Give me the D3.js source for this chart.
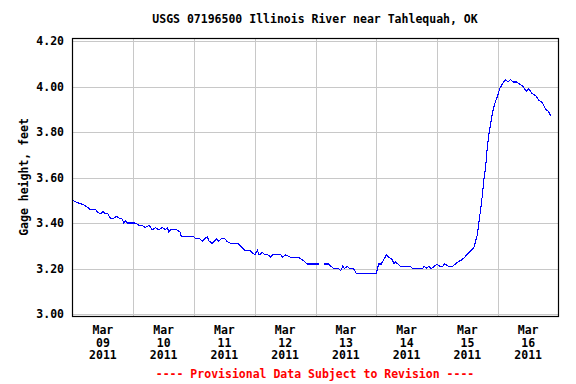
<!DOCTYPE html>
<html>
<head>
<meta charset="utf-8">
<script src="https://cdn.jsdelivr.net/npm/d3@7"></script>
<style>
    body { margin: 0; background: #fff; }
    svg { display: block; }
    text { font-family: 'DejaVu Sans Mono', monospace; font-weight: bold; font-size: 11.5px; fill: #000; }
</style>
</head>
<body>
<div id="chart"></div>
<script>
const title = 'USGS 07196500 Illinois River near Tahlequah, OK';
const yLabel = 'Gage height, feet';
const footer = '---- Provisional Data Subject to Revision ----';

// readings, local time, 2011 (null = missing)
const times = [
    '03/09 00:00', '03/09 01:45', '03/09 04:30', '03/09 05:45', '03/09 07:00', '03/09 09:00', '03/09 09:45',
    '03/09 11:00', '03/09 12:00', '03/09 13:00', '03/09 14:00', '03/09 15:00', '03/09 16:15', '03/09 17:15',
    '03/09 18:45', '03/09 19:30', '03/09 20:15', '03/09 21:00', '03/09 21:45',
    '03/10 00:15', '03/10 00:45', '03/10 02:15', '03/10 03:30', '03/10 04:45', '03/10 06:15', '03/10 07:30',
    '03/10 08:45', '03/10 10:00', '03/10 11:30', '03/10 12:45', '03/10 13:30', '03/10 14:00', '03/10 14:45',
    '03/10 17:15', '03/10 18:30', '03/10 19:00', '03/10 23:45',
    '03/11 01:00', '03/11 02:15', '03/11 03:15', '03/11 04:15', '03/11 05:15', '03/11 06:00', '03/11 07:15',
    '03/11 08:00', '03/11 09:00', '03/11 09:45', '03/11 10:45', '03/11 12:15', '03/11 13:00', '03/11 14:30',
    '03/11 17:30', '03/11 18:15', '03/11 19:15', '03/11 20:00', '03/11 22:00', '03/11 23:00',
    '03/12 00:00', '03/12 01:00', '03/12 01:45', '03/12 03:00', '03/12 04:00', '03/12 05:15', '03/12 06:15',
    '03/12 07:00', '03/12 10:15', '03/12 11:00', '03/12 12:15', '03/12 14:00', '03/12 17:15', '03/12 18:30',
    '03/12 19:45', '03/12 20:45',
    '03/13 01:15', '03/13 02:15', '03/13 03:15', '03/13 05:15', '03/13 06:00', '03/13 07:15', '03/13 09:00',
    '03/13 10:00', '03/13 10:45', '03/13 11:30', '03/13 12:30', '03/13 13:30', '03/13 15:00', '03/13 16:00',
    '03/14 00:00', '03/14 00:45', '03/14 01:00', '03/14 02:00', '03/14 03:00', '03/14 04:00', '03/14 05:00',
    '03/14 06:15', '03/14 07:00', '03/14 07:30', '03/14 08:30', '03/14 09:30', '03/14 13:30', '03/14 14:15',
    '03/14 18:15', '03/14 19:00', '03/14 19:45', '03/14 20:45', '03/14 21:45', '03/14 23:00',
    '03/15 00:00', '03/15 01:00', '03/15 02:15', '03/15 03:00', '03/15 04:30', '03/15 06:15', '03/15 07:15',
    '03/15 08:30', '03/15 10:00', '03/15 11:00', '03/15 12:30', '03/15 13:30', '03/15 14:30', '03/15 15:15',
    '03/15 16:00', '03/15 16:30', '03/15 17:15', '03/15 18:00', '03/15 18:30', '03/15 19:15', '03/15 19:45',
    '03/15 20:30', '03/15 21:15', '03/15 22:00', '03/15 23:15',
    '03/16 00:00', '03/16 00:45', '03/16 01:45', '03/16 03:00', '03/16 04:00', '03/16 05:00', '03/16 06:15',
    '03/16 07:30', '03/16 08:45', '03/16 10:00', '03/16 11:15', '03/16 12:15', '03/16 13:30', '03/16 15:00',
    '03/16 16:15', '03/16 17:30', '03/16 19:00', '03/16 20:00', '03/16 21:00'
];
const gageHeight = [
    3.50, 3.49, 3.48, 3.47, 3.46, 3.46, 3.45,
    3.44, 3.45, 3.44, 3.44, 3.42, 3.42, 3.43,
    3.42, 3.42, 3.40, 3.41, 3.40,
    3.40, 3.40, 3.39, 3.39, 3.38, 3.39, 3.37,
    3.38, 3.37, 3.38, 3.37, 3.38, 3.36, 3.37,
    3.37, 3.36, 3.34, 3.34,
    3.33, 3.33, 3.32, 3.33, 3.34, 3.32, 3.31,
    3.32, 3.33, 3.32, 3.33, 3.33, 3.32, 3.31,
    3.31, 3.30, 3.29, 3.28, 3.28, 3.27,
    3.26, 3.28, 3.26, 3.27, 3.26, 3.26, 3.25,
    3.26, 3.26, 3.25, 3.26, 3.25, 3.25, 3.24,
    3.23, 3.22,
    3.22, null, 3.22, 3.22, 3.21, 3.20, 3.20,
    3.19, 3.21, 3.20, 3.21, 3.20, 3.20, 3.18,
    3.18, 3.21, 3.22, 3.22, 3.24, 3.26, 3.25,
    3.24, 3.22, 3.23, 3.22, 3.21, 3.21, 3.20,
    3.20, 3.21, 3.20, 3.21, 3.20, 3.21,
    3.22, 3.21, 3.21, 3.22, 3.21, 3.21, 3.22,
    3.23, 3.24, 3.25, 3.27, 3.28, 3.29, 3.32,
    3.35, 3.40, 3.46, 3.53, 3.59, 3.65, 3.72,
    3.79, 3.84, 3.89, 3.94,
    3.96, 3.99, 4.01, 4.03, 4.02, 4.03, 4.02,
    4.02, 4.01, 4.00, 3.98, 3.99, 3.97, 3.96,
    3.94, 3.93, 3.90, 3.89, 3.87
];
const yTicks = [3.00, 3.20, 3.40, 3.60, 3.80, 4.00, 4.20];
const dayTicks = ['03/09', '03/10', '03/11', '03/12', '03/13', '03/14', '03/15', '03/16', '03/17'];

const width = 576;
const height = 384;
const frame = { left: 72, right: 558, top: 38, bottom: 316 };

const parseTime = d3.timeParse('%Y/%m/%d %H:%M');
const toDate = s => parseTime(`2011/${s.length > 5 ? s : s + ' 00:00'}`);
const data = times.map((t, i) => ({ date: toDate(t), value: gageHeight[i] }));
const days = dayTicks.map(toDate);

const scaleX = d3.scaleTime()
    .domain(d3.extent(days))
    .range([frame.left + 0.5, frame.right + 0.5]);
const scaleY = d3.scaleLinear()
    .domain([3.0, 4.2])
    .range([314, 41]);

const svg = d3.select('#chart').append('svg')
    .attr('width', width)
    .attr('height', height);

svg.append('rect')
    .attr('width', width)
    .attr('height', height)
    .attr('fill', '#fff');

// horizontal grid + y labels
const axisY = d3.axisLeft(scaleY)
    .tickValues(yTicks)
    .tickFormat(d3.format('.2f'))
    .tickSizeInner(-(frame.right - frame.left))
    .tickSizeOuter(0)
    .tickPadding(8);
const axisYGroup = svg.append('g')
    .attr('transform', `translate(${frame.left}, 0)`)
    .call(axisY);
axisYGroup.select('.domain').remove();
axisYGroup.selectAll('line')
    .attr('stroke', '#c8c8c8')
    .attr('shape-rendering', 'crispEdges');
axisYGroup.selectAll('text')
    .attr('font-family', null)
    .attr('font-size', null)
    .attr('fill', '#000');

// vertical grid at midnight
const axisXGrid = d3.axisBottom(scaleX)
    .tickValues(days.slice(1, -1))
    .tickFormat('')
    .tickSizeInner(-(frame.bottom - frame.top))
    .tickSizeOuter(0);
const gridXGroup = svg.append('g')
    .attr('transform', `translate(0, ${frame.bottom})`)
    .call(axisXGrid);
gridXGroup.select('.domain').remove();
gridXGroup.selectAll('line')
    .attr('stroke', '#c8c8c8')
    .attr('shape-rendering', 'crispEdges');

// day labels at noon
const noons = days.slice(0, -1).map(d => d3.timeHour.offset(d, 12));
const labelGroup = svg.append('g');
const label = labelGroup.selectAll('text')
    .data(noons)
    .join('text')
    .attr('text-anchor', 'middle')
    .attr('transform', d => `translate(${scaleX(d)}, 334)`);
[d3.timeFormat('%b'), d3.timeFormat('%d'), d3.timeFormat('%Y')].forEach((fmt, i) => {
    label.append('tspan')
        .attr('x', 0)
        .attr('y', i * 12.7)
        .text(fmt);
});

// data line
const line = d3.line()
    .defined(d => d.value !== null)
    .x(d => scaleX(d.date))
    .y(d => scaleY(d.value));

svg.append('path')
    .datum(data)
    .attr('d', line)
    .attr('fill', 'none')
    .attr('stroke', '#0000ff')
    .attr('stroke-width', 1.1)
    .attr('shape-rendering', 'crispEdges');

// frame
svg.append('rect')
    .attr('x', frame.left + 0.5)
    .attr('y', frame.top + 0.5)
    .attr('width', frame.right - frame.left)
    .attr('height', frame.bottom - frame.top)
    .attr('fill', 'none')
    .attr('stroke', '#000')
    .attr('stroke-width', 1.2);

svg.append('text')
    .attr('x', 315)
    .attr('y', 23)
    .attr('text-anchor', 'middle')
    .text(title);

svg.append('text')
    .attr('transform', `translate(28, ${(frame.top + frame.bottom) / 2}) rotate(-90)`)
    .attr('text-anchor', 'middle')
    .text(yLabel);

svg.append('text')
    .attr('x', 315)
    .attr('y', 378)
    .attr('text-anchor', 'middle')
    .attr('fill', '#f00')
    .style('fill', '#f00')
    .text(footer);
</script>
</body>
</html>
